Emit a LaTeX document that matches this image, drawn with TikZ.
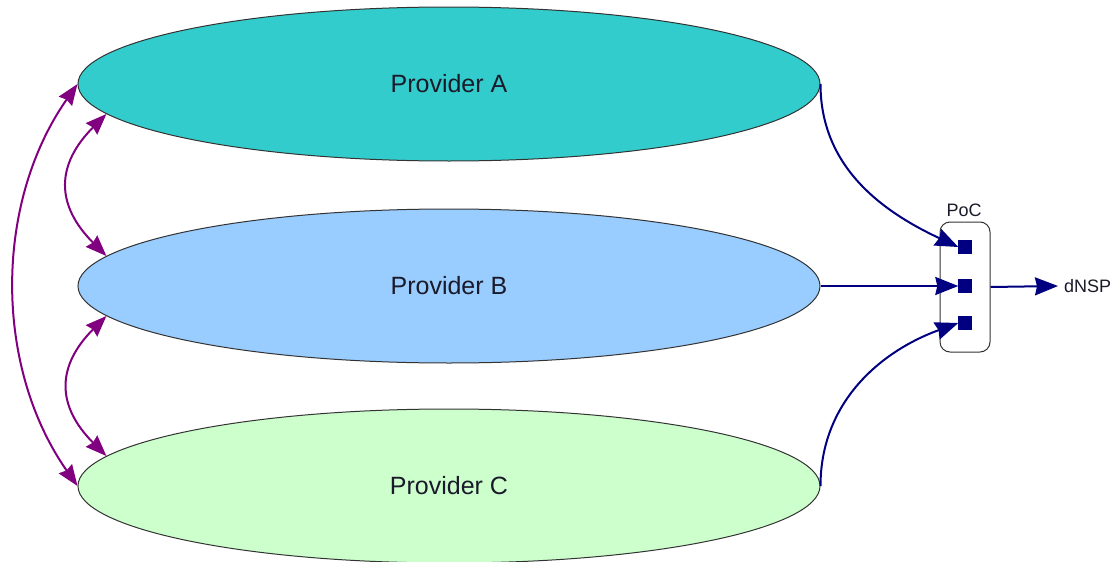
\documentclass[tikz,border=0pt]{standalone}
\usepackage{fontspec}
\setmainfont{Liberation Sans}
\usetikzlibrary{arrows.meta,shapes.geometric}
\definecolor{provA}{HTML}{33CCCC}
\definecolor{provB}{HTML}{99CCFF}
\definecolor{provC}{HTML}{CCFFCC}
\definecolor{navyc}{HTML}{000080}
\definecolor{purplec}{HTML}{800080}
\definecolor{textc}{HTML}{1A1A2A}
\tikzset{
  provider/.style={ellipse, draw=black!80, line width=1pt, minimum width=742pt, minimum height=154pt, font=\fontsize{25}{28}\selectfont, text=textc, inner sep=0pt},
  port/.style={rectangle, fill=navyc, draw=navyc, minimum size=13pt, inner sep=0pt},
  smalllbl/.style={font=\fontsize{18}{20}\selectfont, text=textc},
  navyarrow/.style={draw=navyc, line width=2pt, -{Stealth[length=23pt,width=18pt,inset=2pt]}},
  purplearrow/.style={draw=purplec, line width=2pt, {Stealth[length=21pt,width=16pt,inset=2pt]}-{Stealth[length=21pt,width=16pt,inset=2pt]}},
}
\begin{document}
\begin{tikzpicture}[x=1pt,y=-1pt]
\useasboundingbox (0,0) rectangle (1120,562);
\node[provider, fill=provA] (A) at (449,84) {Provider A};
\node[provider, fill=provB] (B) at (449,286) {Provider B};
\node[provider, fill=provC] (C) at (449,486) {Provider C};
\node[draw=black!80, line width=1pt, rounded corners=10pt, minimum width=50pt, minimum height=130pt, inner sep=0pt] (poc) at (965,287) {};
\node[smalllbl, anchor=base] (poclbl) at (964,216) {PoC};
\node[port] (s1) at (965,247) {};
\node[port] (s2) at (965,286) {};
\node[port] (s3) at (965,323) {};
\node[smalllbl, anchor=west, inner sep=0pt] (dnsp) at (1064,286) {dNSP};
\draw[navyarrow] (A.east) to[out=-90, in=155] (s1.west);
\draw[navyarrow] (B.east) -- (s2.west);
\draw[navyarrow] (C.east) to[out=90, in=200] (s3.west);
\draw[navyarrow] (poc.east) -- ([xshift=-6pt]dnsp.west);
\draw[purplearrow] (A.west) to[out=235, in=125, looseness=0.93] (C.west);
\draw[purplearrow] (A.185) to[out=225, in=135, looseness=1.3] (B.175);
\draw[purplearrow] (B.185) to[out=225, in=135, looseness=1.3] (C.175);
\end{tikzpicture}
\end{document}
